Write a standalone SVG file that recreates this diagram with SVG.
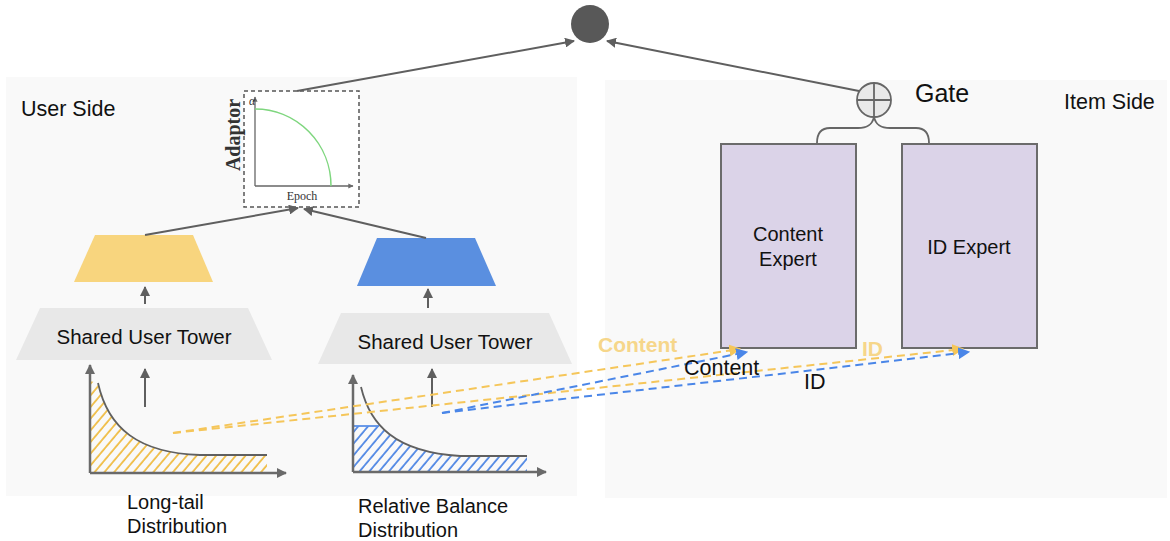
<svg xmlns="http://www.w3.org/2000/svg" width="1170" height="541" viewBox="0 0 1170 541">
<style>
.t{font-family:"Liberation Sans",Arial,sans-serif;fill:#111}
.s{font-family:"Liberation Serif","Times New Roman",serif;fill:#333}
.ar{stroke:#5f5f5f;stroke-width:2;fill:none}
.ax{stroke:#6a6a6a;stroke-width:2.5;fill:none}
.yd{stroke:#f5c65a;stroke-width:2;stroke-dasharray:8 5;fill:none}
.bd{stroke:#4a86e8;stroke-width:2;stroke-dasharray:8 5;fill:none}
.ex{fill:#dbd3e8;stroke:#6b6b6b;stroke-width:2}
.yl{font-family:"Liberation Sans",Arial,sans-serif;font-size:21px;font-weight:bold;fill:#f6d68a}
</style>
<defs>
<marker id="ah" viewBox="0 0 10 10" refX="9" refY="5" markerWidth="5" markerHeight="5" orient="auto" markerUnits="strokeWidth"><path d="M0,0 L10,5 L0,10 Z" fill="#5f5f5f"/></marker>
<marker id="axh" viewBox="0 0 10 10" refX="9" refY="5" markerWidth="4" markerHeight="4" orient="auto" markerUnits="strokeWidth"><path d="M0,0 L10,5 L0,10 Z" fill="#6a6a6a"/></marker>
<marker id="bh" viewBox="0 0 10 10" refX="9" refY="5" markerWidth="6" markerHeight="6" orient="auto" markerUnits="strokeWidth"><path d="M0,0 L10,5 L0,10 Z" fill="#4a86e8"/></marker>
<marker id="yh" viewBox="0 0 10 10" refX="9" refY="5" markerWidth="6" markerHeight="6" orient="auto" markerUnits="strokeWidth"><path d="M0,0 L10,5 L0,10 Z" fill="#f5c65a"/></marker>
<pattern id="yhat" patternUnits="userSpaceOnUse" width="7.5" height="8" patternTransform="rotate(40)"><line x1="1" y1="0" x2="1" y2="8" stroke="#f0bd45" stroke-width="1.8"/></pattern>
<pattern id="bhat" patternUnits="userSpaceOnUse" width="7.5" height="8" patternTransform="rotate(40)"><line x1="1" y1="0" x2="1" y2="8" stroke="#4f87e4" stroke-width="1.8"/></pattern>
<clipPath id="bclip"><rect x="340" y="426" width="220" height="60"/></clipPath>
</defs>
<rect width="1170" height="541" fill="#ffffff"/>
<g id="user-side">
<rect x="6" y="77" width="571" height="419" fill="#f9f9f9"/>
<text class="t" x="21" y="116" font-size="21.5">User Side</text>
</g>
<g id="item-side">
<rect x="605" y="80" width="562" height="418" fill="#f9f9f9"/>
<text class="t" x="1064" y="109" font-size="21.5">Item Side</text>
</g>
<g id="output">
<circle cx="590" cy="24" r="19" fill="#585858"/>
</g>
<g id="adaptor">
<rect x="244" y="91" width="115" height="116" fill="#ffffff" stroke="#555" stroke-width="1.5" stroke-dasharray="4 3"/>
<line x1="255" y1="186" x2="255" y2="97" stroke="#666" stroke-width="1.3" marker-end="url(#axh)"/>
<line x1="255" y1="186" x2="353" y2="186" stroke="#666" stroke-width="1.3" marker-end="url(#axh)"/>
<path d="M255,109 A76,77 0 0 1 331,186" fill="none" stroke="#7ed67e" stroke-width="1.5"/>
<text class="s" x="249" y="105" font-size="12" font-style="italic">α</text>
<text class="s" x="302" y="200" font-size="12" text-anchor="middle">Epoch</text>
<text class="s" x="0" y="0" font-size="20" font-weight="bold" text-anchor="middle" transform="translate(240,135) rotate(-90)">Adaptor</text>
</g>
<g id="yellow-head">
<polygon points="95,235 193,235 213,282 74,282" fill="#f8d57e"/>
</g>
<g id="blue-head">
<polygon points="377,238 475,238 496,286 357,286" fill="#5a8fe0"/>
</g>
<g id="tower-left">
<polygon points="40,308 248,308 272,360 16,360" fill="#e8e8e8"/>
<text class="t" x="144" y="344" font-size="20.5" text-anchor="middle">Shared User Tower</text>
</g>
<g id="tower-right">
<polygon points="341,313 549,313 572,364 318,364" fill="#e8e8e8"/>
<text class="t" x="445" y="349" font-size="20.5" text-anchor="middle">Shared User Tower</text>
</g>
<g id="dist-left">
<path d="M90,381 L98,383 C108,428 138,453 200,455 L267,455 L267,473 L90,473 Z" fill="url(#yhat)"/>
<path d="M98,383 C108,428 138,453 200,455 L267,455" fill="none" stroke="#606060" stroke-width="1.8"/>
<line class="ax" x1="90" y1="473" x2="90" y2="365" marker-end="url(#axh)"/>
<line class="ax" x1="90" y1="473" x2="286" y2="473" marker-end="url(#axh)"/>
<text class="t" x="127" y="509" font-size="20">Long-tail</text>
<text class="t" x="127" y="533" font-size="20">Distribution</text>
</g>
<g id="dist-right">
<path d="M353,387 L361,387 C370,425 395,452 460,456 L527,456 L527,472 L353,472 Z" fill="url(#bhat)" clip-path="url(#bclip)"/>
<line x1="353" y1="426" x2="379" y2="426" stroke="#5b8fe6" stroke-width="1.8"/>
<path d="M361,387 C370,425 395,452 460,456 L527,456" fill="none" stroke="#606060" stroke-width="1.8"/>
<line class="ax" x1="353" y1="472" x2="353" y2="375" marker-end="url(#axh)"/>
<line class="ax" x1="353" y1="472" x2="546" y2="472" marker-end="url(#axh)"/>
<text class="t" x="358" y="513" font-size="20">Relative Balance</text>
<text class="t" x="358" y="537" font-size="20">Distribution</text>
</g>
<g id="content-expert">
<rect class="ex" x="721" y="144" width="135" height="204"/>
<text class="t" x="788" y="241" font-size="20" text-anchor="middle">Content</text>
<text class="t" x="788" y="266" font-size="20" text-anchor="middle">Expert</text>
</g>
<g id="id-expert">
<rect class="ex" x="902" y="144" width="135" height="204"/>
<text class="t" x="969" y="254" font-size="20" text-anchor="middle">ID Expert</text>
</g>
<g id="gate">
<circle cx="874" cy="100" r="17" fill="#e9e9e9" stroke="#666" stroke-width="1.8"/>
<line x1="857" y1="100" x2="891" y2="100" stroke="#666" stroke-width="1.8"/>
<line x1="874" y1="83" x2="874" y2="117" stroke="#666" stroke-width="1.8"/>
<path d="M874,117 C872,126 866,128 858,128 L830,128 C821,128 817,133 817,143" fill="none" stroke="#666" stroke-width="1.8"/>
<path d="M874,117 C876,126 882,128 890,128 L916,128 C925,128 929,133 929,143" fill="none" stroke="#666" stroke-width="1.8"/>
<text class="t" x="915" y="102" font-size="25">Gate</text>
</g>
<g id="connectors">
<line class="ar" x1="297" y1="91" x2="574" y2="41" marker-end="url(#ah)"/>
<line class="ar" x1="859" y1="91" x2="607" y2="41" marker-end="url(#ah)"/>
<line class="ar" x1="145" y1="235" x2="298" y2="208" marker-end="url(#ah)"/>
<line class="ar" x1="426" y1="238" x2="304" y2="209" marker-end="url(#ah)"/>
<line class="ar" x1="145" y1="304" x2="145" y2="287" marker-end="url(#ah)"/>
<line class="ar" x1="428" y1="308" x2="428" y2="289" marker-end="url(#ah)"/>
<line class="ar" x1="145" y1="407" x2="145" y2="369" marker-end="url(#ah)"/>
<line class="ar" x1="432" y1="407" x2="432" y2="369" marker-end="url(#ah)"/>
<line class="yd" x1="173" y1="433" x2="740" y2="349" marker-end="url(#yh)"/>
<line class="yd" x1="173" y1="433" x2="963" y2="349" marker-end="url(#yh)"/>
<line class="bd" x1="442" y1="413" x2="747" y2="352" marker-end="url(#bh)"/>
<line class="bd" x1="442" y1="413" x2="969" y2="352" marker-end="url(#bh)"/>
<text class="yl" x="598" y="352">Content</text>
<text class="yl" x="862" y="356">ID</text>
<text class="t" x="684" y="375" font-size="21.5">Content</text>
<text class="t" x="804" y="389" font-size="21.5">ID</text>
</g>
</svg>
